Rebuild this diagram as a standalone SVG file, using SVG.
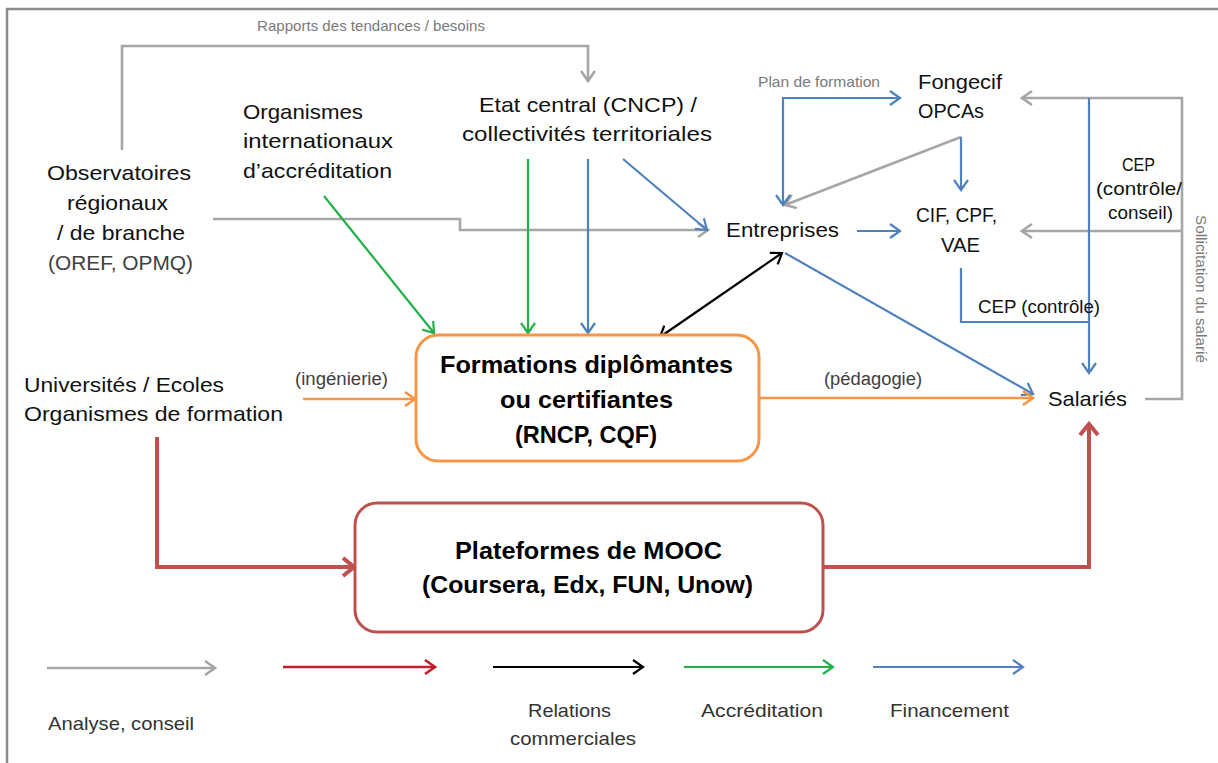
<svg xmlns="http://www.w3.org/2000/svg" width="1218" height="763" viewBox="0 0 1218 763">
<style>
text{font-family:"Liberation Sans",Arial,sans-serif;fill:#111}
.lab{font-size:21px}
.box{font-size:24px;font-weight:bold;fill:#000}
.sm{font-size:15px;fill:#7a7a7a}
.md{font-size:18px;fill:#404040}
.leg{font-size:19px;fill:#333}
.c{fill:none;stroke-linejoin:miter}
.gray{stroke:#a6a6a6;stroke-width:2.6}
.blue{stroke:#4f81bd;stroke-width:2.2}
.green{stroke:#22b04b;stroke-width:2.2}
.black{stroke:#000;stroke-width:2.2}
.orange{stroke:#f79646;stroke-width:2.6}
.red{stroke:#c0504d;stroke-width:4}
</style>
<defs>
<marker id="mg" viewBox="0 0 14 18" refX="12" refY="9" markerWidth="14" markerHeight="18" orient="auto-start-reverse" markerUnits="userSpaceOnUse"><path d="M2,2 L12,9 L2,16" fill="none" stroke="#a6a6a6" stroke-width="2.6"/></marker>
<marker id="mb" viewBox="0 0 14 18" refX="12" refY="9" markerWidth="14" markerHeight="18" orient="auto-start-reverse" markerUnits="userSpaceOnUse"><path d="M2,2 L12,9 L2,16" fill="none" stroke="#4f81bd" stroke-width="2.2"/></marker>
<marker id="mgr" viewBox="0 0 14 18" refX="12" refY="9" markerWidth="14" markerHeight="18" orient="auto-start-reverse" markerUnits="userSpaceOnUse"><path d="M2,2 L12,9 L2,16" fill="none" stroke="#22b04b" stroke-width="2.2"/></marker>
<marker id="mk" viewBox="0 0 14 18" refX="12" refY="9" markerWidth="14" markerHeight="18" orient="auto-start-reverse" markerUnits="userSpaceOnUse"><path d="M2,2 L12,9 L2,16" fill="none" stroke="#000" stroke-width="2.2"/></marker>
<marker id="mo" viewBox="0 0 14 18" refX="12" refY="9" markerWidth="14" markerHeight="18" orient="auto-start-reverse" markerUnits="userSpaceOnUse"><path d="M2,2 L12,9 L2,16" fill="none" stroke="#f79646" stroke-width="2.6"/></marker>
<marker id="mr" viewBox="0 0 16 22" refX="13" refY="11" markerWidth="16" markerHeight="22" orient="auto-start-reverse" markerUnits="userSpaceOnUse"><path d="M2,2 L13,11 L2,20" fill="none" stroke="#c0504d" stroke-width="4"/></marker>
<marker id="mrl" viewBox="0 0 14 18" refX="12" refY="9" markerWidth="14" markerHeight="18" orient="auto-start-reverse" markerUnits="userSpaceOnUse"><path d="M2,2 L12,9 L2,16" fill="none" stroke="#c0212a" stroke-width="2.6"/></marker>
</defs>
<rect width="1218" height="763" fill="#fff"/>
<path d="M7,763 V9 H1218" fill="none" stroke="#8c8c8c" stroke-width="2.5"/>

<g id="connectors">
<path class="c gray" d="M122,150 V46 H588 V81" marker-end="url(#mg)"/>
<path class="c gray" d="M213,219 H460 V230 H708" marker-end="url(#mg)"/>
<path class="c gray" d="M961,137 L785,205" marker-end="url(#mg)"/>
<path class="c gray" d="M1145,399 H1182 V98 H1022" marker-end="url(#mg)"/>
<path class="c gray" d="M1182,231 H1022" marker-end="url(#mg)"/>
<path class="c blue" d="M588,159 V333" marker-end="url(#mb)"/>
<path class="c blue" d="M623,159 L707,230" marker-end="url(#mb)"/>
<path class="c blue" d="M900,98 H783 V205" marker-start="url(#mb)" marker-end="url(#mb)"/>
<path class="c blue" d="M961,137 V190" marker-end="url(#mb)"/>
<path class="c blue" d="M857,231 H900" marker-end="url(#mb)"/>
<path class="c blue" d="M785,253 L1033,394" marker-end="url(#mb)"/>
<path class="c blue" d="M1089,98 V373" marker-end="url(#mb)"/>
<path class="c blue" d="M961,268 V322 H1089"/>
<path class="c green" d="M324,196 L434,333" marker-end="url(#mgr)"/>
<path class="c green" d="M528,159 V333" marker-end="url(#mgr)"/>
<path class="c black" d="M660,337 L782,253" marker-start="url(#mk)" marker-end="url(#mk)"/>
<path class="c orange" d="M303,399 H415" marker-end="url(#mo)"/>
<path class="c orange" d="M759,398 H1033" marker-end="url(#mo)"/>
<path class="c red" d="M157,437 V567 H354" marker-end="url(#mr)"/>
<path class="c red" d="M823,567 H1089 V424" marker-end="url(#mr)"/>
<text class="sm" x="257" y="31" textLength="228" lengthAdjust="spacingAndGlyphs">Rapports des tendances / besoins</text>
<text class="sm" x="758" y="87" textLength="122" lengthAdjust="spacingAndGlyphs">Plan de formation</text>
<text class="md" x="295" y="385" textLength="93" lengthAdjust="spacingAndGlyphs">(ingénierie)</text>
<text class="md" x="824" y="385" textLength="98" lengthAdjust="spacingAndGlyphs">(pédagogie)</text>
<text class="lab" style="font-size:19px" x="978" y="313" textLength="122" lengthAdjust="spacingAndGlyphs">CEP (contrôle)</text>
<text class="lab" style="font-size:19px" x="1122" y="171" textLength="33" lengthAdjust="spacingAndGlyphs">CEP</text>
<text class="lab" style="font-size:19px" x="1096" y="195" textLength="86" lengthAdjust="spacingAndGlyphs">(contrôle/</text>
<text class="lab" style="font-size:19px" x="1108" y="219" textLength="65" lengthAdjust="spacingAndGlyphs">conseil)</text>
<text class="sm" transform="translate(1196,289) rotate(90)" text-anchor="middle" textLength="148" lengthAdjust="spacingAndGlyphs">Sollicitation du salarié</text>
</g>

<g id="observatoires">
<text class="lab" x="47" y="180" textLength="144" lengthAdjust="spacingAndGlyphs">Observatoires</text>
<text class="lab" x="67" y="210" textLength="101" lengthAdjust="spacingAndGlyphs">régionaux</text>
<text class="lab" x="57" y="240" textLength="128" lengthAdjust="spacingAndGlyphs">/ de branche</text>
<text class="lab" x="48" y="270" textLength="145" lengthAdjust="spacingAndGlyphs" style="fill:#404040">(OREF, OPMQ)</text>
</g>
<g id="organismes-internationaux">
<text class="lab" x="243" y="119" textLength="120" lengthAdjust="spacingAndGlyphs">Organismes</text>
<text class="lab" x="243" y="148" textLength="150" lengthAdjust="spacingAndGlyphs">internationaux</text>
<text class="lab" x="243" y="178" textLength="149" lengthAdjust="spacingAndGlyphs">d’accréditation</text>
</g>
<g id="etat-central">
<text class="lab" x="479" y="112" textLength="218" lengthAdjust="spacingAndGlyphs">Etat central (CNCP) /</text>
<text class="lab" x="462" y="141" textLength="250" lengthAdjust="spacingAndGlyphs">collectivités territoriales</text>
</g>
<g id="fongecif">
<text class="lab" x="918" y="89" textLength="84" lengthAdjust="spacingAndGlyphs">Fongecif</text>
<text class="lab" x="918" y="118" textLength="66" lengthAdjust="spacingAndGlyphs">OPCAs</text>
</g>
<g id="entreprises">
<text class="lab" x="726" y="237" textLength="113" lengthAdjust="spacingAndGlyphs">Entreprises</text>
</g>
<g id="cif">
<text class="lab" x="916" y="222" textLength="81" lengthAdjust="spacingAndGlyphs">CIF, CPF,</text>
<text class="lab" x="941" y="252" textLength="39" lengthAdjust="spacingAndGlyphs">VAE</text>
</g>
<g id="universites">
<text class="lab" x="24" y="392" textLength="200" lengthAdjust="spacingAndGlyphs">Universités / Ecoles</text>
<text class="lab" x="24" y="421" textLength="259" lengthAdjust="spacingAndGlyphs">Organismes de formation</text>
</g>
<g id="salaries">
<text class="lab" x="1048" y="406" textLength="79" lengthAdjust="spacingAndGlyphs">Salariés</text>
</g>
<g id="formations">
<rect x="416" y="335" width="343" height="126" rx="22" fill="#fff" stroke="#f79646" stroke-width="3"/>
<text class="box" x="440" y="373" textLength="293" lengthAdjust="spacingAndGlyphs">Formations diplômantes</text>
<text class="box" x="500" y="408" textLength="173" lengthAdjust="spacingAndGlyphs">ou certifiantes</text>
<text class="box" x="515" y="443" textLength="142" lengthAdjust="spacingAndGlyphs">(RNCP, CQF)</text>
</g>
<g id="mooc">
<rect x="355" y="503" width="468" height="129" rx="22" fill="#fff" stroke="#c0504d" stroke-width="3"/>
<text class="box" x="455" y="559" textLength="267" lengthAdjust="spacingAndGlyphs">Plateformes de MOOC</text>
<text class="box" x="422" y="593" textLength="331" lengthAdjust="spacingAndGlyphs">(Coursera, Edx, FUN, Unow)</text>
</g>
<g id="legend">
<path class="c gray" d="M47,668 H215" marker-end="url(#mg)"/>
<path class="c" stroke="#c0212a" stroke-width="2.6" d="M283,667 H435" marker-end="url(#mrl)"/>
<path class="c black" stroke-width="2.6" d="M493,667 H643" marker-end="url(#mk)"/>
<path class="c green" stroke-width="2.6" d="M684,667 H833" marker-end="url(#mgr)"/>
<path class="c blue" stroke-width="2.6" d="M873,667 H1023" marker-end="url(#mb)"/>
<text class="leg" x="48" y="730" textLength="146" lengthAdjust="spacingAndGlyphs">Analyse, conseil</text>
<text class="leg" x="528" y="717" textLength="83" lengthAdjust="spacingAndGlyphs">Relations</text>
<text class="leg" x="510" y="745" textLength="126" lengthAdjust="spacingAndGlyphs">commerciales</text>
<text class="leg" x="701" y="717" textLength="122" lengthAdjust="spacingAndGlyphs">Accréditation</text>
<text class="leg" x="890" y="717" textLength="119" lengthAdjust="spacingAndGlyphs">Financement</text>
</g>
</svg>
